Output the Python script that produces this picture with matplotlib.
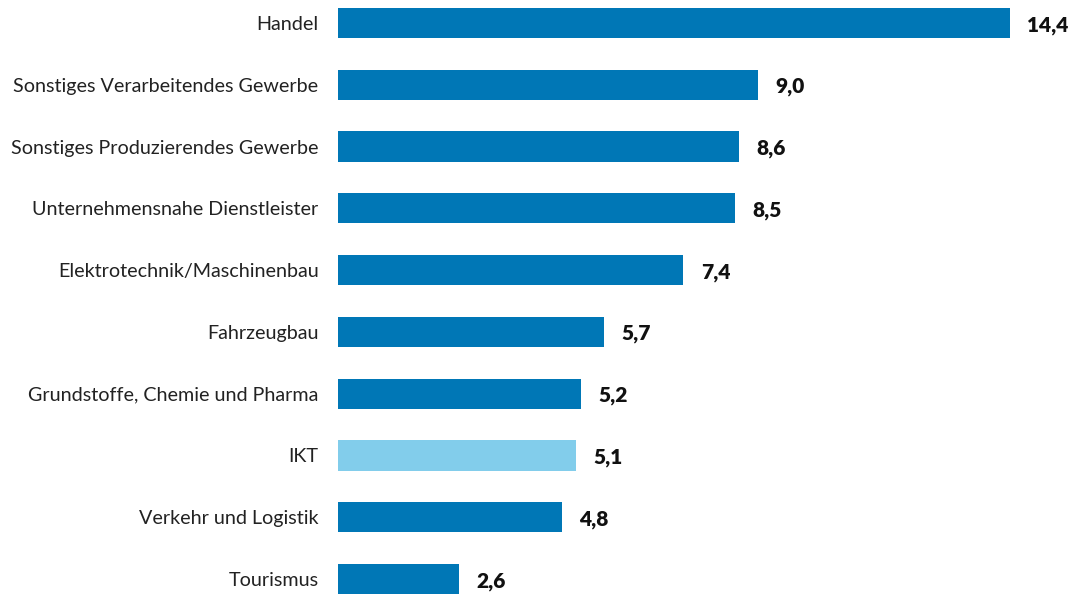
import matplotlib
matplotlib.use("Agg")
import matplotlib.pyplot as plt

categories = ["Handel", "Sonstiges Verarbeitendes Gewerbe", "Sonstiges Produzierendes Gewerbe",
              "Unternehmensnahe Dienstleister", "Elektrotechnik/Maschinenbau", "Fahrzeugbau",
              "Grundstoffe, Chemie und Pharma", "IKT", "Verkehr und Logistik", "Tourismus"]
values = [14.4, 9.0, 8.6, 8.5, 7.4, 5.7, 5.2, 5.1, 4.8, 2.6]
highlight = "IKT"

plt.rcParams['font.family'] = ['Lato', 'DejaVu Sans']

fig = plt.figure(figsize=(10.76, 5.96), dpi=100)
ax = fig.add_axes([338/1076, 0, 700/1076, 1])

dark = "#0077B6"
light = "#82CDEB"
colors = [light if c == highlight else dark for c in categories]
ypos = list(range(len(categories)))
ax.barh(ypos, values, height=0.49, color=colors)

for y, v in zip(ypos, values):
    ax.annotate(f"{v:.1f}".replace(".", ","), xy=(v, y), xytext=(12.5, -1.5),
                textcoords="offset points", va="center", ha="left",
                fontsize=15, fontweight="heavy", color="#111111")

ax.set_xlim(0, 15)
ax.set_ylim(9 + 17/61.78, -23/61.78)
ax.set_yticks(ypos)
ax.set_yticklabels(categories, fontsize=14.2, color="#222222")
ax.tick_params(axis="y", length=0, pad=14)
ax.set_xticks([])
for s in ax.spines.values():
    s.set_visible(False)

fig.savefig("out.png", dpi=100)
